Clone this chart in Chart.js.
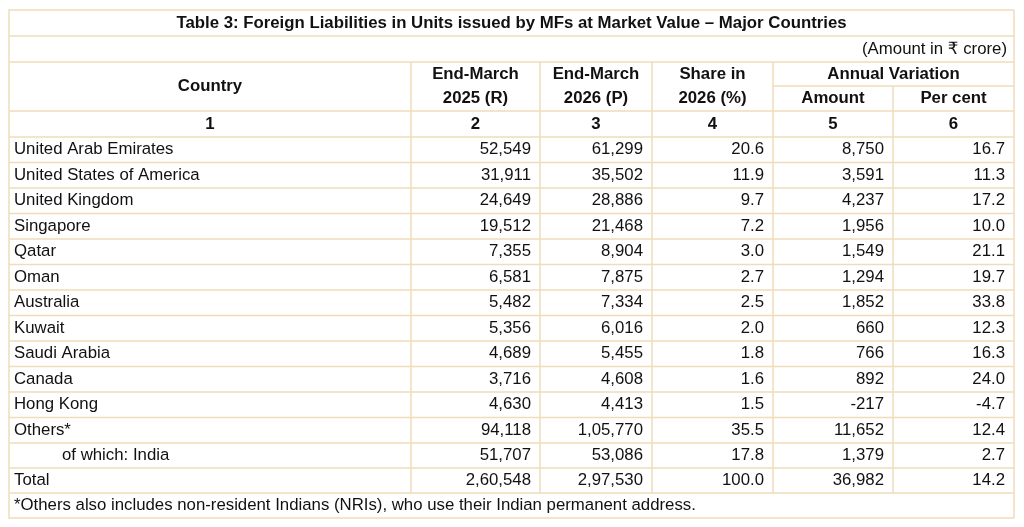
<!DOCTYPE html>
<html><head><meta charset="utf-8">
<script src="https://cdn.jsdelivr.net/npm/chart.js@4"></script>
<style>html,body{margin:0;padding:0;background:#fff}#w{width:1024px;height:527px}</style>
</head><body><div id="w"><canvas id="c"></canvas></div>
<script>
const title = "Table 3: Foreign Liabilities in Units issued by MFs at Market Value – Major Countries";
const unitNote = "(Amount in ₹ crore)";
const countries = ["United Arab Emirates","United States of America","United Kingdom","Singapore","Qatar","Oman","Australia","Kuwait","Saudi Arabia","Canada","Hong Kong","Others*","of which: India","Total"];
const endMarch2025 = ["52,549","31,911","24,649","19,512","7,355","6,581","5,482","5,356","4,689","3,716","4,630","94,118","51,707","2,60,548"];
const endMarch2026 = ["61,299","35,502","28,886","21,468","8,904","7,875","7,334","6,016","5,455","4,608","4,413","1,05,770","53,086","2,97,530"];
const share2026 = ["20.6","11.9","9.7","7.2","3.0","2.7","2.5","2.0","1.8","1.6","1.5","35.5","17.8","100.0"];
const varAmount = ["8,750","3,591","4,237","1,956","1,549","1,294","1,852","660","766","892","-217","11,652","1,379","36,982"];
const varPercent = ["16.7","11.3","17.2","10.0","21.1","19.7","33.8","12.3","16.3","24.0","-4.7","12.4","2.7","14.2"];
const colNumbers = ["1","2","3","4","5","6"];
const footnote = "*Others also includes non-resident Indians (NRIs), who use their Indian permanent address.";
const colEdges = [9,411,540,652,773,893,1014];
const rowEdges = [10,36,62,111,137,162.5,188,213.5,239,264.5,290,315.5,341,366.5,392,417.5,443,468,493,518];

const F = '"Liberation Sans", Arial, "DejaVu Sans", sans-serif';
const tablePlugin = {
  id:'table',
  afterDraw(chart){
    const ctx = chart.ctx, X = v=>chart.scales.x.getPixelForValue(v), Y = v=>chart.scales.y.getPixelForValue(v);
    ctx.save();
    ctx.strokeStyle = '#efdcba'; ctx.lineWidth = 1.5;
    const hl=(y,a,b)=>{ctx.beginPath();ctx.moveTo(X(a),Y(y));ctx.lineTo(X(b),Y(y));ctx.stroke();};
    const vl=(x,a,b)=>{ctx.beginPath();ctx.moveTo(X(x),Y(a));ctx.lineTo(X(x),Y(b));ctx.stroke();};
    const L=colEdges[0], R=colEdges[6];
    ctx.strokeRect(X(L),Y(rowEdges[0]),X(R)-X(L),Y(rowEdges[19])-Y(rowEdges[0]));
    for(let i=1;i<19;i++) hl(rowEdges[i],L,R);
    hl(86,colEdges[4],R);
    for(let c=1;c<6;c++) vl(colEdges[c], c===5?86:rowEdges[2], rowEdges[18]);
    ctx.fillStyle='#111'; ctx.textBaseline='middle';
    const txt=(s,x,y,al,bold)=>{ctx.font=(bold?'bold ':'')+'16.8px '+F;ctx.textAlign=al;ctx.fillText(s,X(x),Y(y));};
    const mid=i=>(rowEdges[i]+rowEdges[i+1])/2, cm=c=>(colEdges[c]+colEdges[c+1])/2;
    txt(title,(L+R)/2,mid(0),'center',true);
    txt(unitNote,R-7,mid(1),'right',false);
    txt("Country",cm(0),86,'center',true);
    [["End-March","2025 (R)"],["End-March","2026 (P)"],["Share in","2026 (%)"]].forEach((p,i)=>{txt(p[0],cm(i+1),74,'center',true);txt(p[1],cm(i+1),98.5,'center',true);});
    txt("Annual Variation",(colEdges[4]+R)/2,74,'center',true);
    txt("Amount",cm(4),98.5,'center',true); txt("Per cent",cm(5),98.5,'center',true);
    colNumbers.forEach((n,i)=>txt(n,cm(i),mid(3),'center',true));
    const cols=[endMarch2025,endMarch2026,share2026,varAmount,varPercent];
    countries.forEach((c,r)=>{
      const y=mid(4+r);
      txt(c, c.startsWith('of which')?62:14, y,'left',false);
      cols.forEach((a,k)=>txt(a[r],colEdges[k+2]-9,y,'right',false));
    });
    txt(footnote,14,mid(18),'left',false);
    ctx.restore();
  }
};
new Chart(document.getElementById('c'),{
  type:'scatter',
  data:{datasets:[{data:[],pointRadius:0}]},
  options:{responsive:true,maintainAspectRatio:false,animation:false,
    layout:{padding:0},
    plugins:{legend:{display:false},tooltip:{enabled:false}},
    scales:{x:{type:'linear',min:0,max:1024,display:false},y:{type:'linear',min:0,max:527,reverse:true,display:false}}},
  plugins:[tablePlugin]
});
</script></body></html>
